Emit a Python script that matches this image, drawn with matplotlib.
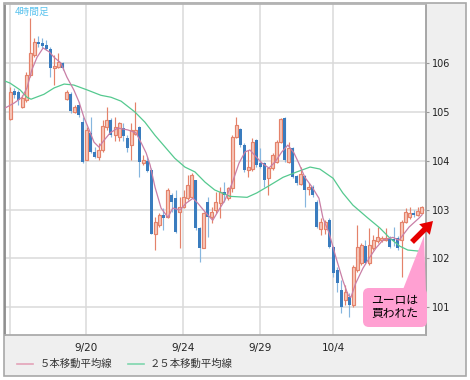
import numpy as np
import matplotlib
matplotlib.use('Agg')
import matplotlib.pyplot as plt
from matplotlib.patches import Rectangle, FancyBboxPatch, Polygon, FancyArrow
from matplotlib.lines import Line2D

plt.rcParams['font.family'] = ['DejaVu Sans', 'Noto Sans CJK JP']
JP = ['Noto Sans CJK JP', 'DejaVu Sans']

# 4時間足 OHLC (ユーロ/円)
opens = [104.85, 105.43, 105.41, 105.10, 105.24, 105.75, 106.16, 106.44, 106.41, 106.37,
         106.29, 105.90, 105.92, 106.00, 105.26, 105.36, 105.00, 105.14, 104.79, 104.01,
         104.57, 104.18, 104.07, 104.22, 104.69, 104.83, 104.52, 104.48, 104.67, 104.46,
         104.32, 104.55, 104.69, 103.95, 103.99, 103.81, 102.50, 102.68, 102.89, 102.84,
         103.30, 103.23, 102.95, 103.05, 103.23, 103.25, 103.60, 102.62, 102.21, 103.15,
         102.84, 102.99, 103.13, 103.36, 103.23, 103.44, 104.48, 104.65, 104.32, 103.81,
         103.83, 104.42, 103.95, 103.95, 103.64, 103.85, 103.97, 104.38, 104.87, 103.97,
         104.26, 103.68, 103.52, 103.68, 103.42, 103.46, 103.15, 102.60, 102.60, 102.78,
         102.23, 101.76, 101.35, 101.14, 101.20, 101.04, 101.76, 101.90, 102.25, 101.90,
         102.21, 102.35, 102.37, 102.37, 102.41, 102.39, 102.41, 102.37, 102.74, 102.84,
         102.93, 102.89, 102.93]
highs = [105.51, 105.49, 105.45, 105.34, 105.82, 106.92, 106.51, 106.55, 106.51, 106.47,
         106.33, 106.16, 106.20, 106.02, 105.45, 105.41, 105.14, 105.20, 104.89, 104.69,
         104.89, 104.28, 104.36, 104.83, 105.10, 104.87, 104.89, 104.79, 104.77, 104.52,
         104.77, 105.20, 104.72, 104.11, 104.07, 103.85, 102.84, 102.93, 103.03, 103.44,
         103.34, 103.40, 103.25, 103.40, 103.70, 103.75, 103.60, 102.64, 102.95, 103.25,
         103.05, 103.36, 103.46, 103.56, 103.46, 104.52, 104.89, 104.67, 104.36, 104.22,
         104.46, 104.44, 104.26, 103.97, 103.87, 104.16, 104.42, 104.87, 104.89, 104.38,
         104.28, 103.70, 103.87, 103.70, 103.54, 103.50, 103.19, 102.82, 102.78, 102.82,
         102.25, 101.82, 101.55, 101.45, 101.29, 101.86, 102.68, 102.31, 102.37, 102.62,
         102.48, 102.64, 102.46, 102.62, 102.46, 102.64, 102.46, 102.78, 103.03, 103.05,
         102.99, 103.05, 103.07]
lows = [104.83, 105.28, 105.14, 105.08, 105.20, 105.71, 106.12, 106.33, 106.31, 106.27,
        105.71, 105.55, 105.90, 105.86, 105.24, 104.98, 104.98, 104.89, 103.95, 104.01,
        104.16, 104.05, 104.01, 104.18, 104.63, 104.48, 104.40, 104.40, 104.40, 104.18,
        104.01, 104.52, 103.66, 103.91, 103.77, 102.50, 102.17, 102.64, 102.58, 102.82,
        102.95, 102.52, 102.21, 103.03, 103.19, 103.23, 102.58, 101.92, 102.21, 102.43,
        102.72, 102.93, 102.82, 103.15, 103.19, 103.36, 104.46, 104.28, 103.77, 103.66,
        103.79, 103.87, 103.85, 103.46, 103.30, 103.81, 103.95, 104.36, 103.97, 103.95,
        103.64, 103.50, 103.50, 103.05, 103.30, 103.25, 102.62, 102.48, 102.50, 102.21,
        101.61, 101.31, 100.88, 101.04, 100.80, 101.00, 101.72, 101.86, 101.88, 101.86,
        102.17, 102.31, 102.33, 102.35, 102.21, 102.25, 102.17, 101.61, 102.72, 102.80,
        102.84, 102.86, 102.91]
closes = [105.41, 105.34, 105.24, 105.28, 105.75, 106.20, 106.43, 106.39, 106.35, 106.29,
          105.90, 105.93, 106.02, 105.90, 105.41, 105.02, 105.10, 104.93, 103.97, 104.63,
          104.18, 104.07, 104.22, 104.71, 104.83, 104.52, 104.69, 104.77, 104.50, 104.26,
          104.63, 104.63, 103.97, 104.01, 103.79, 102.50, 102.74, 102.89, 102.82, 103.40,
          103.15, 102.54, 103.05, 103.25, 103.50, 103.70, 102.62, 102.21, 102.93, 102.84,
          102.95, 103.15, 103.36, 103.30, 103.44, 104.48, 104.73, 104.32, 103.81, 103.87,
          104.38, 103.91, 103.87, 103.60, 103.85, 104.11, 104.38, 104.85, 104.01, 104.26,
          103.66, 103.54, 103.72, 103.40, 103.46, 103.30, 102.64, 102.74, 102.74, 102.23,
          101.70, 101.49, 101.00, 101.31, 101.04, 101.82, 102.23, 102.27, 101.90, 102.27,
          102.37, 102.43, 102.41, 102.41, 102.23, 102.35, 102.21, 102.74, 102.95, 102.93,
          102.89, 102.97, 103.05]

# 移動平均線 (読み取り値, 位置は足の番号)
ma5_pos = [-1.2, 1.0, 3.0, 4.2, 5.4, 6.7, 8.2, 9.7, 10.9, 12.6, 14.1, 15.8, 17.1, 18.3,
           19.6, 20.8, 22.0, 23.3, 24.8, 26.7, 29.2, 31.2, 32.4, 33.7, 34.7, 35.9, 37.4,
           39.1, 40.3, 42.1, 43.6, 45.3, 46.5, 48.3, 50.2, 51.7, 53.2, 55.0, 56.7, 58.2,
           59.4, 60.6, 62.4, 64.1, 65.6, 67.3, 68.8, 70.3, 71.5, 73.0, 74.8, 76.5, 77.5,
           79.0, 80.7, 82.4, 83.7, 84.4, 85.6, 87.4, 88.9, 90.6, 92.3, 94.8, 96.3, 98.8,
           101.2, 102.0]
ma5 = [105.08, 105.18, 105.30, 105.49, 105.86, 106.12, 106.31, 106.23, 106.12, 106.00,
       105.71, 105.45, 105.20, 104.89, 104.63, 104.38, 104.28, 104.42, 104.57, 104.67,
       104.63, 104.57, 104.38, 104.16, 103.91, 103.46, 103.03, 102.84, 103.03, 102.99,
       103.13, 103.23, 103.13, 102.95, 102.78, 102.99, 103.19, 103.54, 103.95, 104.18,
       104.22, 104.11, 103.95, 103.85, 103.97, 104.18, 104.32, 104.16, 103.95, 103.66,
       103.46, 103.23, 102.82, 102.52, 102.02, 101.55, 101.25, 101.20, 101.49, 101.80,
       102.00, 102.21, 102.37, 102.43, 102.37, 102.64, 102.82, 102.89]

ma25_pos = [-1.2, 0.0, 2.5, 4.2, 5.2, 8.4, 10.9, 13.4, 15.8, 19.1, 22.5, 25.0, 27.5,
            30.9, 33.4, 35.9, 38.4, 40.8, 43.3, 45.8, 48.3, 50.7, 54.5, 58.7, 61.1,
            64.4, 67.6, 71.0, 74.3, 76.7, 80.0, 82.4, 84.9, 88.4, 91.6, 94.1, 96.5,
            98.5, 101.0, 102.0]
ma25 = [105.63, 105.59, 105.45, 105.30, 105.26, 105.36, 105.49, 105.57, 105.55, 105.45,
        105.34, 105.30, 105.22, 105.00, 104.79, 104.52, 104.28, 104.05, 103.87, 103.77,
        103.56, 103.40, 103.27, 103.25, 103.34, 103.50, 103.66, 103.77, 103.87, 103.83,
        103.64, 103.34, 103.09, 102.84, 102.62, 102.41, 102.25, 102.17, 102.15, 102.15]

tick_pos = [0, 18.8, 42.9, 62.0, 80.0]
tick_lab = ['', '9/20', '9/24', '9/29', '10/4']
y_ticks = [101, 102, 103, 104, 105, 106]

fig = plt.figure(figsize=(4.7, 3.8), dpi=100, facecolor='white')

# 背景 (グレーの枠)
bg = fig.add_axes([0, 0, 1, 1], zorder=0)
bg.set_xlim(0, 470)
bg.set_ylim(380, 0)
bg.axis('off')
bg.add_patch(Rectangle((4, 3), 462, 373, facecolor='#EFEFEF', edgecolor='#A8A8A8', lw=1.2))

# メインのチャート
ax = fig.add_axes([5 / 470, 45 / 380, 421 / 470, 331 / 380], zorder=1)
ax.set_facecolor('white')

x = np.arange(len(opens))
o = np.array(opens)
h = np.array(highs)
l = np.array(lows)
c = np.array(closes)
up = c >= o
body_lo = np.minimum(o, c)
body_h = np.maximum(np.abs(c - o), 0.025)

ax.vlines(x[up], l[up], h[up], color='#E4826A', lw=0.85, zorder=2)
ax.vlines(x[~up], l[~up], h[~up], color='#86B6DE', lw=0.85, zorder=2)
ax.bar(x[up], body_h[up], 0.74, bottom=body_lo[up], facecolor='#F7C9BC',
       edgecolor='#E4826A', lw=0.85, zorder=2.5)
ax.bar(x[~up], body_h[~up], 0.74, bottom=body_lo[~up], color='#3A7CBE', lw=0, zorder=2.5)

ax.plot(ma25_pos, ma25, color='#55C98F', lw=0.9, zorder=3)
ax.plot(ma5_pos, ma5, color='#C97FA6', lw=0.9, zorder=3)

ax.set_xlim(-1.24, 103.0)
ax.set_ylim(100.43, 107.21)
ax.set_xticks(tick_pos)
ax.set_xticklabels(tick_lab)
ax.set_yticks(y_ticks)
ax.set_yticklabels([str(v) for v in y_ticks])
ax.yaxis.tick_right()
ax.tick_params(axis='x', length=0, labelsize=7.5, pad=6, labelcolor='#222222')
ax.tick_params(axis='y', length=2.5, color='#999999', labelsize=7, pad=1.5,
               labelcolor='#222222')
ax.grid(True, color='#DADADA', lw=1.1, zorder=0)
ax.set_axisbelow(True)
for side, col in [('left', '#8C8C8C'), ('top', '#B4B4B4'), ('right', '#A0A0A0'),
                  ('bottom', '#ABABAB')]:
    ax.spines[side].set_color(col)
    ax.spines[side].set_linewidth(1.3)

# 注記・凡例
fg = fig.add_axes([0, 0, 1, 1], zorder=2)
fg.set_xlim(0, 470)
fg.set_ylim(380, 0)
fg.axis('off')
fg.patch.set_alpha(0)

fg.text(15, 12, '4時間足', color='#5BC3EE', fontsize=7, va='center', family=JP)

fg.add_line(Line2D([17, 33], [364, 364], color='#E3A3B8', lw=1.2))
fg.text(40, 364, '５本移動平均線', fontsize=7.5, va='center', color='#333333', family=JP)
fg.add_line(Line2D([128, 144], [364, 364], color='#7FD6AE', lw=1.2))
fg.text(150, 364, '２５本移動平均線', fontsize=7.5, va='center', color='#333333', family=JP)

pink = '#FFA0D2'
fg.add_patch(Polygon([(402, 292), (426, 292), (424, 236)], closed=True,
                     facecolor=pink, edgecolor='none'))
fg.add_patch(FancyBboxPatch((363, 288), 64, 39, boxstyle='round,pad=0,rounding_size=6',
                            facecolor=pink, edgecolor='none'))
fg.text(395, 300.5, 'ユーロは', fontsize=8.5, ha='center', va='center', family=JP)
fg.text(395, 314, '買われた', fontsize=8.5, ha='center', va='center', family=JP)

fg.add_patch(FancyArrow(412, 242, 21, -21, width=5.5, head_width=15, head_length=12,
                        length_includes_head=True, color='#E60000', lw=0))

fig.savefig('out.png', dpi=100, facecolor='white')
